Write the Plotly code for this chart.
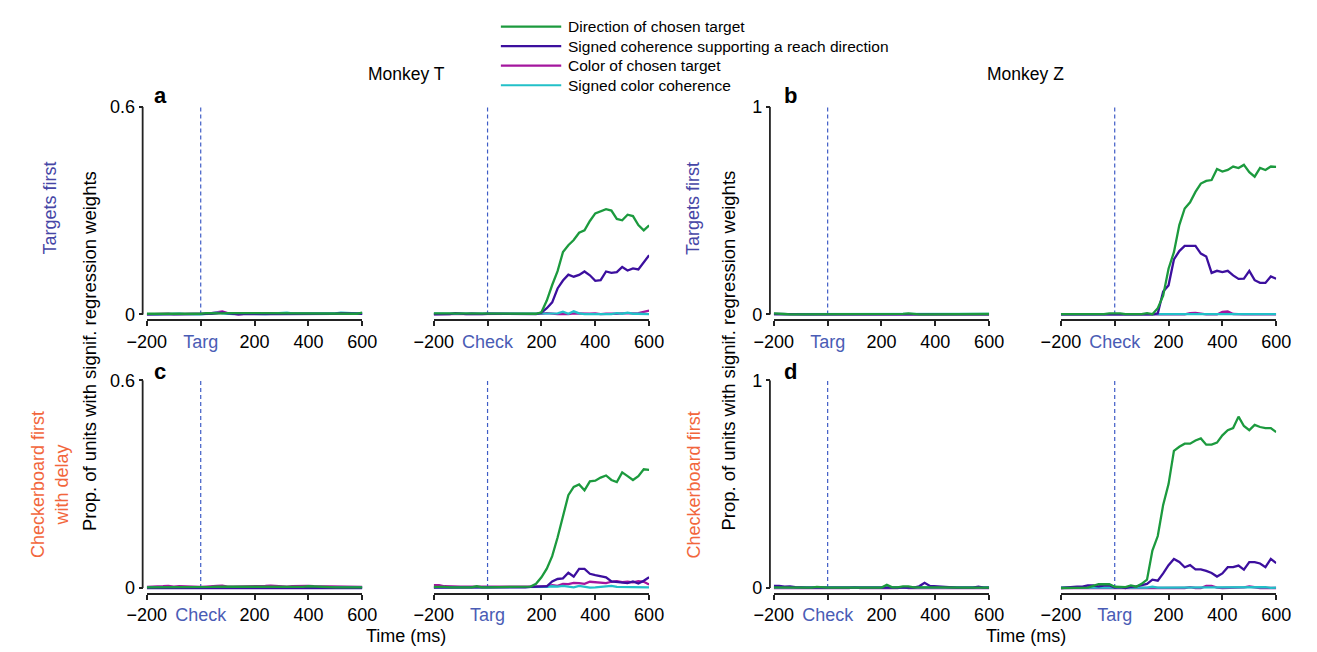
import plotly.graph_objects as go

# ---------------- data ----------------
time_ms = list(range(-200, 601, 20))
series_names = ["Direction of chosen target",
                "Signed coherence supporting a reach direction",
                "Color of chosen target",
                "Signed color coherence"]
series_colors = ["#1c9a3e", "#3c0f9e", "#a4169e", "#22c0c8"]
tick_vals = [-200, 0, 200, 400, 600]

# Panel a (Monkey T, targets first) - aligned to targets
a_targ_dir = [0.002,0.002,0.002,0.001,0.002,0.002,0.002,0.002,0.001,0.002,0.002,0.004,0.003,0.002,0.003,0.004,0.004,0.003,0.002,0.002,0.002,0.002,0.003,0.003,0.002,0.002,0.003,0.003,0.004,0.003,0.003,0.002,0.002,0.002,0.002,0.002,0.003,0.004,0.003,0.002,0.005]
a_targ_coh = [0,0,0.001,0.001,0,0,0,0,0,0,0.001,0,0.002,0.003,0.005,0.003,0.001,0,0.001,0.002,0.001,0.001,0.002,0.002,0.001,0.001,0.002,0.003,0.003,0.002,0.002,0.003,0.002,0.001,0.001,0.002,0.004,0.003,0.002,0.002,0.002]
a_targ_col = [0,0.001,0.002,0.003,0.002,0,0,0,0,0,0,0.002,0.004,0.007,0.009,0.004,0.001,0,0.002,0.003,0.002,0.002,0.003,0.004,0.003,0.002,0.002,0.003,0.003,0.004,0.003,0.003,0.004,0.002,0.002,0.002,0.003,0.002,0.002,0.002,0.002]
a_targ_ccoh = [0.001,0,0,0.001,0.002,0.003,0.002,0.001,0,0,0,0.002,0.003,0.005,0.003,0.002,0.001,0.003,0.004,0.002,0.001,0.002,0.001,0.002,0.003,0.002,0.005,0.003,0.003,0.002,0.002,0.001,0.002,0.002,0.002,0.003,0.005,0.004,0.003,0.002,0.002]
# Panel a - aligned to checkerboard
a_check_dir = [0.003,0.003,0.003,0.002,0.003,0.004,0.003,0.002,0.002,0.002,0.003,0.003,0.002,0.002,0.002,0.002,0.002,0.002,0.002,0.002,
               0.006,0.04,0.085,0.125,0.18,0.20,0.215,0.236,0.243,0.27,0.292,0.298,0.304,0.30,0.276,0.272,0.288,0.284,0.258,0.243,0.257]
a_check_coh = [0,0,0,0.001,0.004,0.002,0.001,0.002,0.001,0.001,0.002,0.002,0.002,0.002,0.001,0.001,0.001,0.001,0.001,0.001,
               0.005,0.018,0.035,0.075,0.098,0.115,0.109,0.114,0.124,0.113,0.097,0.099,0.124,0.12,0.122,0.137,0.127,0.133,0.13,0.15,0.171]
a_check_col = [0.001,0.001,0.001,0.002,0.002,0.001,0.001,0.001,0.001,0.001,0.002,0.002,0.001,0.001,0.002,0.002,0.001,0.001,0.001,0.001,
               0.002,0.004,0.002,0.001,0.002,0.001,0.003,0.002,0.001,0.002,0.003,0.001,0.002,0.001,0.002,0.003,0.002,0.003,0.004,0.008,0.011]
a_check_ccoh = [0.002,0.002,0.002,0.001,0.002,0.002,0.002,0.002,0.002,0.002,0.002,0.002,0.002,0.002,0.002,0.001,0.001,0.001,0.001,0.001,
                0.002,0.002,0.001,0.003,0.008,0.002,0.009,0.003,0.001,0.001,0.002,0.002,0.002,0.001,0.004,0.002,0.005,0.002,0.002,0.002,0.001]

# Panel b (Monkey Z, targets first)
b_targ_dir = [0.005,0.005,0.002,0,0,0,0.003,0.003,0,0,0.001,0,0,0,0,0,0,0,0,0,0,0,0,0,0.003,0.005,0.002,0,0,0,0,0,0,0,0,0,0,0,0,0,0.002]
b_targ_coh = [0.003,0.002,0.001,0,0,0,0,0,0,0,0,0,0,0,0,0,0,0,0,0,0,0,0,0,0.003,0.003,0,0,0,0,0,0,0,0,0,0,0,0,0,0,0]
b_targ_col = [0,0,0,0.002,0.001,0.003,0,0,0,0,0,0,0,0,0,0.003,0,0,0,0,0,0,0,0,0,0,0,0,0,0,0,0,0,0,0,0,0.003,0.001,0,0,0]
b_targ_ccoh = [0.001,0.001,0.003,0.002,0.004,0.001,0.001,0.001,0.001,0.001,0.003,0.001,0.001,0.003,0.001,0.001,0.001,0.001,0.001,0.003,0.001,0.001,0.003,0.001,0.001,0.003,0.001,0.001,0.001,0.001,0.001,0.001,0.001,0.001,0.001,0.001,0.001,0.001,0.001,0.002,0.003]
b_check_dir = [0.001,0.001,0.001,0.001,0.001,0.001,0.001,0.001,0.001,0.005,0.006,0.005,0.001,0.001,0.001,0.001,0.006,0.001,
               0.03,0.09,0.22,0.30,0.43,0.51,0.54,0.59,0.63,0.643,0.647,0.70,0.688,0.696,0.712,0.705,0.72,0.685,0.663,0.705,0.695,0.712,0.71]
b_check_coh = [0,0,0,0,0,0,0,0,0,0.003,0.003,0.002,0,0,0,0,0,0,
               0.005,0.11,0.14,0.265,0.305,0.33,0.33,0.33,0.293,0.279,0.2,0.21,0.204,0.21,0.188,0.171,0.172,0.21,0.165,0.152,0.152,0.183,0.172]
b_check_col = [0,0,0,0,0,0,0,0,0,0,0,0,0,0,0,0,0,0,
               0.003,0.002,0,0,0,0,0.006,0.007,0.004,0,0,0,0.012,0.014,0.002,0,0,0,0,0,0,0,0]
b_check_ccoh = [0.001,0.001,0.001,0.001,0.001,0.001,0.001,0.001,0.001,0.001,0.001,0.001,0.001,0.001,0.001,0.001,0.001,0.001,
                0.004,0.002,0.001,0.001,0.001,0.001,0.001,0.001,0.001,0.001,0.001,0.001,0.001,0.001,0.001,0.001,0.001,0.001,0.001,0.001,0.001,0.001,0.001]

# Panel c (Monkey T, checkerboard first with delay)
c_check_dir = [0.002,0.002,0.002,0.002,0.003,0.003,0.002,0.001,0.002,0.002,0.001,0.003,0.003,0.004,0.004,0.002,0.002,0.003,0.003,0.003,0.003,0.003,0.004,0.003,0.002,0.003,0.002,0.002,0.002,0.003,0.005,0.004,0.004,0.003,0.003,0.002,0.002,0.002,0.002,0.002,0.002]
c_check_coh = [0,0,0,0,0,0,0,0,0,0,0,0,0,0.001,0,0,0,0,0,0,0,0.001,0.001,0,0,0,0,0,0,0,0.001,0,0,0,0,0,0,0,0,0,0]
c_check_col = [0.003,0.003,0.003,0.005,0.006,0.004,0.005,0.004,0.003,0.003,0.003,0.004,0.004,0.006,0.007,0.004,0.004,0.004,0.005,0.005,0.006,0.006,0.006,0.007,0.006,0.004,0.004,0.005,0.006,0.005,0.006,0.005,0.005,0.004,0.005,0.004,0.003,0.004,0.004,0.004,0.003]
c_check_ccoh = [0.002,0.002,0.002,0.002,0.002,0.002,0.002,0.002,0.002,0.002,0.002,0.002,0.002,0.002,0.002,0.002,0.002,0.002,0.002,0.002,0.002,0.002,0.002,0.002,0.002,0.002,0.002,0.002,0.002,0.002,0.003,0.002,0.002,0.002,0.004,0.004,0.003,0.002,0.002,0.002,0.002]
c_targ_dir = [0.003,0.004,0.003,0.002,0.002,0.002,0.002,0.002,0.005,0.002,0.002,0.002,0.003,0.003,0.002,0.002,0.002,0.002,
              0.004,0.012,0.031,0.056,0.092,0.146,0.207,0.268,0.292,0.299,0.282,0.308,0.31,0.319,0.325,0.312,0.306,0.334,0.323,0.312,0.323,0.343,0.341]
c_targ_coh = [0.001,0.001,0.001,0,0,0,0,0,0,0,0,0,0,0,0,0,0.001,0.002,0.003,0.004,
              0.004,0.005,0.019,0.026,0.028,0.044,0.033,0.055,0.055,0.041,0.037,0.035,0.031,0.019,0.017,0.016,0.014,0.019,0.013,0.021,0.031]
c_targ_col = [0.008,0.008,0.005,0.004,0.004,0.004,0.004,0.004,0.004,0.002,0.003,0.003,0.004,0.003,0.004,0.004,0.004,0.004,0.004,0.004,
              0.004,0.005,0.008,0.006,0.012,0.011,0.015,0.014,0.012,0.018,0.017,0.016,0.014,0.018,0.02,0.017,0.018,0.016,0.02,0.018,0.01]
c_targ_ccoh = [0.002,0.002,0.002,0.002,0.002,0.002,0.002,0.002,0.002,0.002,0.002,0.002,0.002,0.002,0.002,0.002,0.002,0.002,0.002,0.002,
               0.002,0.003,0.005,0.004,0.006,0.004,0.002,0.006,0.003,0.001,0.002,0.004,0.005,0.006,0.003,0.003,0.004,0.004,0.004,0.003,0.002]

# Panel d (Monkey Z, checkerboard first)
d_check_dir = [0.003,0.003,0.002,0.002,0.001,0.001,0.002,0.002,0.005,0.002,0.002,0.002,0.002,0.005,0.002,0.002,0.002,0.002,0.002,0.002,0.002,0.015,0.003,0.003,0.008,0.008,0.003,0.003,0.004,0.003,0.003,0.003,0.002,0.002,0.002,0.002,0.002,0.002,0.002,0.002,0.002]
d_check_coh = [0.01,0.01,0.006,0.008,0.004,0.002,0.002,0.002,0.002,0.002,0.002,0.002,0.002,0.002,0.004,0.002,0.002,0.002,0.002,0.002,0.002,0.002,0.002,0.002,0.004,0.004,0.002,0.008,0.025,0.01,0.008,0.005,0.003,0.002,0.002,0.002,0.002,0.002,0.006,0.002,0.002]
d_check_col = [0,0,0,0,0,0,0,0,0,0,0,0,0,0,0,0.004,0,0,0,0,0,0,0,0,0.004,0,0,0,0,0,0,0,0,0,0,0,0,0,0,0,0]
d_check_ccoh = [0.003,0.003,0.003,0.003,0.003,0.003,0.003,0.003,0.003,0.003,0.003,0.003,0.003,0.003,0.003,0.003,0.003,0.003,0.003,0.003,0.003,0.003,0.003,0.003,0.003,0.006,0.003,0.003,0.003,0.003,0.003,0.006,0.006,0.003,0.003,0.003,0.003,0.003,0.003,0.003,0.003]
d_targ_dir = [0.0,0.0,0.0,0.0,0.002,0.002,0.01,0.018,0.018,0.018,0.006,0.006,0.004,0.012,0.006,0.02,0.04,0.18,0.25,0.40,
              0.50,0.66,0.68,0.695,0.695,0.71,0.72,0.69,0.69,0.70,0.735,0.76,0.77,0.825,0.78,0.76,0.785,0.775,0.77,0.77,0.75]
d_targ_coh = [0.0,0.002,0.006,0.006,0.006,0.012,0.012,0.008,0.012,0.012,0.002,0.004,0.0,0.006,0.008,0.015,0.02,0.04,0.035,0.07,
              0.11,0.14,0.125,0.1,0.11,0.09,0.09,0.082,0.072,0.055,0.07,0.1,0.1,0.108,0.088,0.125,0.125,0.118,0.1,0.14,0.12]
d_targ_col = [0,0,0,0,0,0,0,0,0,0,0,0,0,0,0,0,0,0,0,0,
              0,0,0,0,0.004,0,0,0.01,0.01,0.002,0,0,0,0,0.003,0.007,0.003,0,0,0,0]
d_targ_ccoh = [0.002,0.002,0.002,0.002,0.002,0.002,0.002,0.002,0.002,0.002,0.002,0.002,0.002,0.002,0.002,0.002,0.002,0.006,0.002,0.002,
               0.002,0.002,0.002,0.002,0.002,0.002,0.002,0.002,0.002,0.005,0.002,0.002,0.002,0.002,0.002,0.005,0.002,0.002,0.004,0.001,0.002]

# ---------------- layout helpers ----------------
W, H = 1317, 652
FONT = "Liberation Sans, Arial, Helvetica, sans-serif"
EVENT_COLOR = "#4a5cb5"
AXIS_COLOR = "#222222"
def fx(px): return px / W
def fy(py): return 1 - py / H

panels = [
    # (axis idx, x-domain px, row, ymax, event label, series list)
    (1, (130.3, 351.7), 0, 0.6, "Targ",  [a_targ_dir, a_targ_coh, a_targ_col, a_targ_ccoh]),
    (2, (425.0, 646.3), 0, 0.6, "Check", [a_check_dir, a_check_coh, a_check_col, a_check_ccoh]),
    (3, (774.4, 995.6), 0, 1.0, "Targ",  [b_targ_dir, b_targ_coh, b_targ_col, b_targ_ccoh]),
    (4, (1069.3, 1290.5), 0, 1.0, "Check", [b_check_dir, b_check_coh, b_check_col, b_check_ccoh]),
    (5, (130.3, 351.7), 1, 0.6, "Check", [c_check_dir, c_check_coh, c_check_col, c_check_ccoh]),
    (6, (425.0, 646.3), 1, 0.6, "Targ",  [c_targ_dir, c_targ_coh, c_targ_col, c_targ_ccoh]),
    (7, (774.4, 995.6), 1, 1.0, "Check", [d_check_dir, d_check_coh, d_check_col, d_check_ccoh]),
    (8, (1069.3, 1290.5), 1, 1.0, "Targ",  [d_targ_dir, d_targ_coh, d_targ_col, d_targ_ccoh]),
]
row_px = [(99.0, 316.5), (379.0, 596.5)]
yaxis_pos_px = {1: 126.0, 3: 770.4, 5: 126.0, 7: 770.4}

fig = go.Figure()
layout = dict(width=W, height=H, margin=dict(l=0, r=0, t=0, b=0),
              paper_bgcolor="white", plot_bgcolor="white", showlegend=False,
              font=dict(family=FONT, size=18, color="black"))
shapes, annotations = [], []

draw_order = [2, 3, 1, 0]  # magenta, cyan, indigo, green on top
for idx, (x0p, x1p), row, ymax, ev, series in panels:
    sfx = "" if idx == 1 else str(idx)
    xa, ya = "x" + sfx, "y" + sfx
    for k in draw_order:
        fig.add_trace(go.Scatter(x=time_ms, y=series[k], mode="lines",
                                 name=series_names[k], xaxis=xa, yaxis=ya,
                                 line=dict(color=series_colors[k], width=2.3),
                                 hoverinfo="skip"))
    top_px, bot_px = row_px[row]
    yoff = -ymax * 4.9 / (bot_px - top_px - 4.9)
    ticktext = ["\u2212200", f'<span style="color:{EVENT_COLOR}">{ev}</span>', "200", "400", "600"]
    layout["xaxis" + sfx] = dict(domain=[fx(x0p), fx(x1p)], range=[-200, 600], anchor=ya,
                                 showline=True, linecolor=AXIS_COLOR, linewidth=2,
                                 ticks="outside", ticklen=5, tickwidth=1.5, tickcolor=AXIS_COLOR,
                                 tickvals=tick_vals, ticktext=ticktext,
                                 tickfont=dict(size=18, family=FONT),
                                 showgrid=False, zeroline=False, fixedrange=True)
    ydict = dict(domain=[fy(bot_px), fy(top_px)], range=[yoff, ymax],
                 showgrid=False, zeroline=False, fixedrange=True)
    if idx in yaxis_pos_px:
        ydict.update(anchor="free", position=fx(yaxis_pos_px[idx]), showline=False,
                     ticks="outside", ticklen=4, tickwidth=1.5, tickcolor=AXIS_COLOR,
                     tickvals=[0, ymax], ticktext=["0", "0.6" if ymax < 1 else "1"],
                     tickfont=dict(size=18, family=FONT))
        shapes.append(dict(type="line", xref="paper", yref=ya,
                           x0=fx(yaxis_pos_px[idx]), x1=fx(yaxis_pos_px[idx]),
                           y0=0, y1=ymax, line=dict(color=AXIS_COLOR, width=1.8)))
    else:
        ydict.update(showticklabels=False, showline=False, ticks="")
    layout["yaxis" + sfx] = ydict
    # dashed event line
    shapes.append(dict(type="line", xref=xa, yref=ya, x0=0, x1=0, y0=0, y1=ymax,
                       line=dict(color="#3f5cc6", width=1.2, dash="4px,3px"), layer="below"))

def ann(text, xpx, ypx, size=18, color="black", angle=0, bold=False, xanchor="center"):
    if bold:
        text = f"<b>{text}</b>"
    annotations.append(dict(text=text, x=fx(xpx), y=fy(ypx), xref="paper", yref="paper",
                            xanchor=xanchor, yanchor="middle", showarrow=False,
                            textangle=angle, font=dict(size=size, color=color, family=FONT)))

ann("Monkey T", 397, 66, size=17.5)
ann("Monkey Z", 1033, 66, size=17.5)
ann("a", 144, 88, size=22, bold=True)
ann("b", 792, 88, size=22, bold=True)
ann("c", 144, 370, size=22, bold=True)
ann("d", 792, 370, size=22, bold=True)
ytitle = "Prop. of units with signif. regression weights"
ann(ytitle, 72, 349, size=18.5, angle=-90)
ann(ytitle, 728, 349, size=18.5, angle=-90)
TF_COLOR, CB_COLOR = "#4646a6", "#f2663c"
ann("Targets first", 31, 203, color=TF_COLOR, angle=-90)
ann("Targets first", 692, 203, color=TF_COLOR, angle=-90)
ann("Checkerboard first<br>with delay", 31, 486, color=CB_COLOR, angle=-90)
ann("Checkerboard first", 692, 486, color=CB_COLOR, angle=-90)
ann("Time (ms)", 397, 641)
ann("Time (ms)", 1033, 641)

# legend (drawn manually)
for k, (nm, col) in enumerate(zip(series_names, series_colors)):
    ypx = 17 + 20 * k
    shapes.append(dict(type="line", xref="paper", yref="paper", x0=fx(494), x1=fx(556),
                       y0=fy(ypx), y1=fy(ypx), line=dict(color=col, width=2.2)))
    ann(nm, 561, ypx, size=15.5, xanchor="left")

layout["shapes"] = shapes
layout["annotations"] = annotations
fig.update_layout(**layout)
fig.write_html("out.html")
